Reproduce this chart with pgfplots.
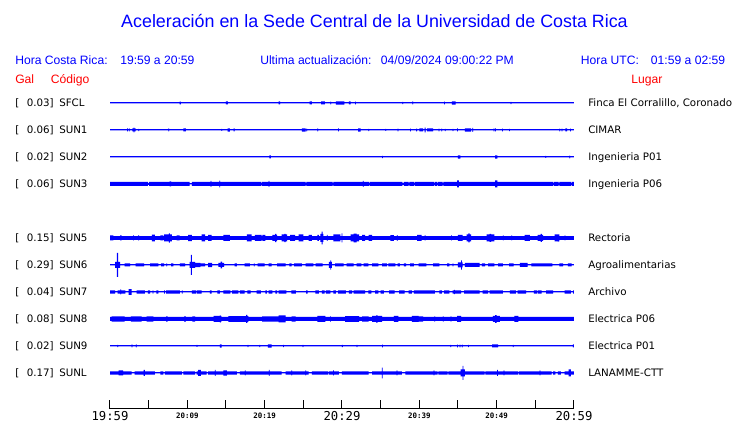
\documentclass[border=0pt]{standalone}
\usepackage{fontspec}
\usepackage{pgfplots}
\usepackage{pgfplotstable}
\pgfplotsset{compat=1.18}
\setmainfont{DejaVu Sans}
\newfontfamily\arialf{Liberation Sans}
\newfontfamily\monof{DejaVu Sans Mono}
\definecolor{sblue}{RGB}{0,0,255}
\definecolor{sred}{RGB}{255,0,0}

% envelope of each trace: from t (minutes after 19:59) on, half amplitude a (px)
\pgfplotstableread[row sep=\\]{t a\\
0 0.5\\ 9.0 1.4\\ 9.15 0.5\\ 15.0 1.5\\ 15.25 0.5\\ 21.8 1.5\\ 22.0 0.5\\ 25.8 1.5\\ 26.1 0.5\\
27.3 1.5\\ 27.8 0.5\\ 28.5 1.4\\ 28.6 0.5\\ 29.2 1.6\\ 30.3 0.5\\ 30.9 1.5\\ 31.1 0.5\\ 31.7 1.4\\ 31.8 0.5\\
37.8 1.2\\ 37.9 0.5\\ 39.1 1.5\\ 39.2 0.5\\ 43.2 1.4\\ 43.3 0.5\\ 44.2 1.6\\ 44.7 0.5\\ 51.8 1.2\\ 51.9 0.5\\ 60 0.5\\
}\sfcl
\pgfplotstableread[row sep=\\]{t a\\
0 0.5\\ 2.2 1.5\\ 2.3 0.5\\ 2.45 1.5\\ 2.55 0.5\\ 2.9 1.5\\ 3.05 2.3\\ 3.15 1.5\\ 3.3 0.5\\ 3.66 1.2\\ 3.76 0.5\\
7.54 1.5\\ 7.64 0.5\\ 9.5 1.5\\ 9.8 0.5\\ 14.4 1.0\\ 14.5 0.5\\ 15.2 1.7\\ 15.5 0.5\\ 16.0 1.5\\ 16.1 0.5\\
24.8 1.7\\ 25.3 0.5\\ 25.4 1.3\\ 25.5 0.5\\ 26.8 1.5\\ 26.9 0.5\\ 29.5 1.5\\ 29.6 0.5\\ 32.1 1.7\\ 32.4 0.5\\
33.4 1.2\\ 33.5 0.5\\ 35.6 1.0\\ 35.7 0.5\\ 37.2 1.4\\ 37.3 0.5\\ 38.8 1.4\\ 38.9 0.5\\ 39.6 1.4\\ 39.7 0.5\\
40.0 1.5\\ 40.5 0.5\\ 40.7 2.3\\ 40.8 0.5\\ 41.0 1.5\\ 41.8 0.5\\ 42.5 1.3\\ 42.6 0.5\\ 42.85 1.3\\ 42.95 0.5\\
43.3 1.2\\ 43.4 0.5\\ 44.3 1.2\\ 44.4 0.5\\ 44.9 1.5\\ 45.0 0.5\\ 45.9 1.7\\ 46.7 0.5\\ 46.85 2.0\\ 46.95 0.5\\
49.6 1.5\\ 49.7 0.5\\ 49.8 1.5\\ 49.9 0.5\\ 50.7 1.4\\ 50.8 0.5\\ 51.6 1.2\\ 51.7 0.5\\ 58.1 1.4\\ 58.2 0.5\\
58.4 1.4\\ 58.5 0.5\\ 58.9 1.5\\ 59.1 0.5\\ 59.5 1.3\\ 59.6 0.5\\ 60 0.5\\
}\sunone
\pgfplotstableread[row sep=\\]{t a\\
0 0.5\\ 20.6 1.5\\ 20.8 0.5\\ 35.2 1.2\\ 35.3 0.5\\ 45.0 1.7\\ 45.3 0.5\\ 49.8 1.7\\ 50.1 0.5\\
56.3 1.0\\ 56.4 0.5\\ 59.4 1.3\\ 59.5 0.5\\ 60 0.5\\
}\suntwo
\pgfplotstableread[row sep=\\]{t a\\
0 2\\ 4.9 1.0\\ 5.05 2\\ 7.7 2.5\\ 7.9 2\\ 10.3 0.5\\ 10.6 2\\ 13.0 3\\ 13.1 2\\ 14.15 3.3\\ 14.25 2\\
19.5 1.2\\ 19.6 2\\ 20.5 3\\ 20.6 2\\ 25.3 1.2\\ 25.4 2\\ 28.8 1.2\\ 28.9 2\\ 32.7 3\\ 32.8 2\\ 33.5 1.2\\ 33.6 2\\
37.8 1.0\\ 38.0 2\\ 38.6 1.0\\ 38.7 2\\ 39.3 1.0\\ 39.4 2\\ 41.9 1.0\\ 42.0 2\\ 42.3 1.0\\ 42.4 2\\ 43.0 1.0\\ 43.1 2\\
44.9 3.5\\ 45.1 2\\ 49.8 3.5\\ 50.1 2\\ 57.3 1.0\\ 57.4 2\\ 58.0 1.0\\ 58.1 2\\ 59.6 1.0\\ 59.7 2\\ 60 2\\
}\sunthree
\pgfplotstableread[row sep=\\]{t a\\
0 2.5\\ 0.45 1.8\\ 1.3 2.5\\ 1.5 1.8\\ 3.0 2.5\\ 3.1 1.8\\ 3.65 2.5\\ 3.75 1.8\\ 5.4 3.3\\ 5.8 1.8\\
6.5 2.5\\ 6.9 1.8\\ 7.0 3.5\\ 7.6 4.6\\ 7.75 3.5\\ 8.0 1.8\\ 8.6 2.5\\ 9.0 1.8\\ 10.1 3.2\\ 10.6 1.8\\
11.85 3.5\\ 12.3 1.8\\ 12.7 3\\ 13.15 1.8\\ 14.65 3\\ 15.5 1.8\\ 17.7 3.5\\ 18.3 1.8\\ 18.75 3\\ 19.6 1.8\\
19.7 3\\ 20.1 1.8\\ 21.0 3\\ 21.35 4.2\\ 21.5 3\\ 21.6 1.8\\ 22.2 3.5\\ 22.55 4.2\\ 22.7 3.5\\ 22.9 1.8\\
23.3 3\\ 23.95 1.8\\ 24.4 3.5\\ 25.0 1.8\\ 25.7 3\\ 26.1 1.8\\ 26.8 3\\ 27.0 1.8\\ 27.2 4\\ 27.35 6.3\\ 27.5 4\\ 27.6 1.8\\
28.05 3\\ 28.15 1.8\\ 28.9 3.5\\ 29.8 1.8\\ 29.95 4.5\\ 30.05 1.8\\ 31.1 3.5\\ 31.5 4.3\\ 31.9 3.5\\ 32.2 1.8\\
32.6 3\\ 33.0 1.8\\ 33.45 3\\ 33.9 1.8\\ 36.25 2.8\\ 36.7 1.8\\ 37.1 2.8\\ 37.2 1.8\\ 39.7 3\\ 40.3 1.8\\
40.7 2.5\\ 40.8 1.8\\ 44.1 2.5\\ 44.2 1.8\\ 45.0 3\\ 45.6 1.8\\ 46.1 3.5\\ 46.35 4.5\\ 46.5 3.5\\ 46.7 1.8\\
48.7 3.5\\ 49.1 4\\ 49.3 3.5\\ 49.7 1.8\\ 50.8 2.5\\ 50.9 1.8\\ 51.9 2.5\\ 52.0 1.8\\ 53.6 3\\ 54.3 1.8\\
55.3 3\\ 55.7 4\\ 55.85 3\\ 56.0 1.8\\ 57.5 3.5\\ 57.9 3.7\\ 58.0 3.5\\ 58.1 1.8\\ 58.8 2.5\\ 58.9 1.8\\ 60 1.8\\
}\sunfive
\pgfplotstableread[row sep=\\]{t a\\
0 0.5\\ 0.65 3\\ 0.9 12\\ 1.05 3\\ 1.3 0.5\\ 1.9 1.5\\ 2.6 0.5\\ 3.3 1.5\\ 4.4 0.5\\ 5.2 1.5\\ 6.25 0.5\\
6.6 1.5\\ 7.0 0.5\\ 7.3 1.5\\ 7.4 0.5\\ 7.9 1.5\\ 8.2 0.5\\ 9.05 1.5\\ 9.7 0.5\\ 10.3 3\\ 10.45 10\\ 10.6 3\\
11.0 2.2\\ 11.7 1.5\\ 12.3 0.5\\ 12.7 2.2\\ 13.2 0.5\\ 14.0 2\\ 14.3 3.3\\ 14.5 2\\ 14.75 0.5\\ 16.1 1.5\\ 16.4 0.5\\
17.4 1.5\\ 18.1 0.5\\ 18.6 1.5\\ 18.7 0.5\\ 19.1 1.5\\ 20.0 0.5\\ 20.5 1.5\\ 20.9 0.5\\ 21.6 1.5\\ 22.7 0.5\\
23.2 1.5\\ 23.5 0.5\\ 23.8 1.5\\ 24.8 0.5\\ 25.3 1.5\\ 26.3 0.5\\ 26.6 1.5\\ 27.5 0.5\\ 28.3 3\\ 28.5 4.7\\ 28.6 3\\ 28.7 0.5\\
29.1 1.5\\ 30.2 0.5\\ 30.6 1.5\\ 31.5 0.5\\ 31.9 1.5\\ 32.5 0.5\\ 32.8 1.5\\ 33.4 0.5\\ 33.9 1.5\\ 34.7 0.5\\
35.2 1.5\\ 35.8 0.5\\ 36.0 1.5\\ 36.9 0.5\\ 37.2 1.5\\ 37.5 0.5\\ 38.0 1.5\\ 38.3 0.5\\ 38.8 1.5\\ 39.3 0.5\\
39.9 1.5\\ 40.9 0.5\\ 41.8 1.5\\ 42.6 0.5\\ 43.6 1.5\\ 43.9 0.5\\ 44.3 1.5\\ 44.4 0.5\\ 45.0 2.5\\ 45.4 4.7\\ 45.5 2.5\\ 45.6 0.5\\
45.9 2\\ 47.8 0.5\\ 48.1 1.5\\ 48.5 0.5\\ 48.9 1.5\\ 49.7 0.5\\ 50.2 1.5\\ 50.8 0.5\\ 51.6 1.5\\ 52.2 0.5\\
53.0 2\\ 54.0 0.5\\ 54.5 1.5\\ 57.2 0.5\\ 58.1 1.5\\ 58.6 0.5\\ 59.2 1.5\\ 59.7 0.5\\ 60 0.5\\
}\sunsix
\pgfplotstableread[row sep=\\]{t a\\
0 1.6\\ 0.65 0.5\\ 1.0 1.6\\ 1.35 2.5\\ 1.45 1.6\\ 2.0 0.5\\ 2.4 2.8\\ 2.8 0.5\\ 3.45 1.6\\ 4.5 0.5\\
4.9 1.6\\ 5.2 0.5\\ 5.5 1.6\\ 5.6 0.5\\ 6.0 1.6\\ 6.25 0.5\\ 7.0 1.6\\ 7.1 0.5\\ 7.25 1.6\\ 9.05 0.5\\
9.3 1.6\\ 9.4 0.5\\ 10.6 1.6\\ 11.1 0.5\\ 11.2 1.6\\ 11.85 0.5\\ 12.9 1.6\\ 13.15 0.5\\ 13.9 1.6\\ 14.2 0.5\\
14.65 1.6\\ 15.55 0.5\\ 15.8 1.6\\ 16.6 0.5\\ 16.8 1.6\\ 17.4 0.5\\ 17.75 1.6\\ 18.2 0.5\\ 18.96 1.6\\ 19.5 0.5\\
20.1 1.6\\ 20.3 0.5\\ 20.5 1.6\\ 21.0 0.5\\ 21.4 1.6\\ 21.6 0.5\\ 21.8 1.6\\ 22.8 0.5\\ 23.45 1.6\\ 24.05 0.5\\
25.35 1.6\\ 25.55 0.5\\ 26.55 1.6\\ 27.0 0.5\\ 27.4 1.6\\ 27.75 0.5\\ 27.9 1.6\\ 28.5 0.5\\ 28.9 1.6\\ 29.2 0.5\\
29.5 1.6\\ 30.5 0.5\\ 30.9 1.6\\ 31.3 0.5\\ 31.5 1.6\\ 33.0 0.5\\ 33.4 1.6\\ 33.8 0.5\\ 34.3 1.6\\ 34.7 0.5\\
35.0 1.6\\ 35.4 0.5\\ 36.1 1.6\\ 36.8 0.5\\ 37.4 1.6\\ 38.1 0.5\\ 38.6 1.6\\ 39.05 0.5\\ 39.3 1.6\\ 42.0 0.5\\
42.6 1.6\\ 42.9 0.5\\ 43.2 1.6\\ 43.9 0.5\\ 44.3 1.6\\ 44.5 2.2\\ 44.6 1.6\\ 45.4 0.5\\ 45.8 1.6\\ 47.8 0.5\\
48.2 1.6\\ 48.9 0.5\\ 49.1 1.6\\ 50.8 0.5\\ 51.7 1.6\\ 52.5 0.5\\ 52.7 1.6\\ 53.8 0.5\\ 54.8 1.6\\ 55.2 0.5\\
55.3 1.6\\ 55.8 0.5\\ 56.4 1.6\\ 57.3 0.5\\ 58.8 1.6\\ 59.6 0.5\\ 59.9 1.6\\ 60 1.6\\
}\sunseven
\pgfplotstableread[row sep=\\]{t a\\
0 2\\ 0.2 2.7\\ 1.9 2\\ 2.7 2.7\\ 4.1 2\\ 4.75 2.7\\ 5.6 2\\ 7.25 2.7\\ 7.45 2\\ 9.6 2.7\\ 9.8 2\\
10.65 2.7\\ 11.0 2\\ 13.4 3\\ 14.2 3.6\\ 14.3 3\\ 14.4 2\\ 15.3 2.8\\ 17.6 4\\ 17.75 2.8\\ 17.9 2\\
19.66 2.6\\ 21.8 3.5\\ 22.7 2\\ 23.5 2.7\\ 24.0 2\\ 26.8 3\\ 27.85 2\\ 28.45 2.7\\ 28.55 2\\ 30.4 2.8\\ 32.2 2\\
32.6 2.7\\ 33.45 2\\ 33.9 3\\ 34.4 3.7\\ 34.6 3\\ 35.2 2\\ 36.7 3\\ 37.3 2\\ 39.05 3\\ 39.9 2.7\\ 40.5 2\\
41.95 2.7\\ 42.05 2\\ 43.05 2.7\\ 43.15 2\\ 44.05 2.7\\ 44.15 2\\ 44.9 3\\ 45.4 2\\ 49.5 3\\ 49.8 3.8\\ 50.0 3\\ 50.4 2\\
52.3 3\\ 52.8 2\\ 60 2\\
}\suneight
\pgfplotstableread[row sep=\\]{t a\\
0 0.5\\ 0.95 1.1\\ 1.05 0.5\\ 2.8 1.5\\ 2.9 0.5\\ 3.35 1.5\\ 3.45 0.5\\ 11.2 1.0\\ 11.3 0.5\\ 14.2 1.6\\ 14.45 0.5\\
17.8 1.2\\ 17.9 0.5\\ 19.3 1.2\\ 19.4 0.5\\ 20.4 1.6\\ 20.9 0.5\\ 22.4 1.1\\ 22.5 0.5\\ 24.9 1.1\\ 25.0 0.5\\
30.0 1.1\\ 30.1 0.5\\ 31.9 1.1\\ 32.0 0.5\\ 35.2 1.4\\ 35.3 0.5\\ 44.0 1.2\\ 44.1 0.5\\ 44.9 1.3\\ 45.0 0.5\\
45.2 1.3\\ 45.3 0.5\\ 45.5 1.3\\ 45.6 0.5\\ 46.3 1.1\\ 46.4 0.5\\ 49.4 1.5\\ 50.2 0.5\\ 52.1 1.1\\ 52.2 0.5\\
59.85 1.5\\ 60 1.5\\
}\sunnine
\pgfplotstableread[row sep=\\]{t a\\
0 1.7\\ 1.1 2.5\\ 1.7 1.7\\ 2.8 0.5\\ 3.2 1.7\\ 4.35 3\\ 4.5 1.7\\ 5.8 0.5\\ 6.5 1.7\\ 6.9 0.5\\ 7.1 1.7\\
9.3 0.5\\ 9.5 1.7\\ 11.0 0.5\\ 11.2 1.7\\ 11.4 3\\ 11.75 1.7\\ 12.5 0.5\\ 12.7 1.7\\ 13.55 3\\ 13.65 1.7\\
14.65 2.7\\ 15.1 1.7\\ 16.4 0.5\\ 16.8 1.7\\ 17.45 2.5\\ 17.55 1.7\\ 20.55 3\\ 20.65 1.7\\ 22.2 0.5\\ 22.7 1.7\\
23.45 2.5\\ 23.55 1.7\\ 25.25 2.5\\ 25.35 1.7\\ 25.7 0.5\\ 26.1 1.7\\ 28.25 0.5\\ 28.35 1.7\\ 28.85 2.5\\ 28.95 1.7\\
29.6 0.5\\ 30.0 1.7\\ 33.45 0.5\\ 33.9 1.7\\ 35.15 5.3\\ 35.25 1.7\\ 37.05 2.5\\ 37.15 1.7\\ 37.75 0.5\\ 38.2 1.7\\
41.85 2.5\\ 41.95 1.7\\ 42.35 0.5\\ 42.45 1.7\\ 43.65 0.5\\ 43.75 1.7\\ 45.35 3.5\\ 45.6 7\\ 45.7 3.5\\ 45.9 1.7\\
48.45 0.5\\ 48.55 1.7\\ 50.05 3\\ 50.15 1.7\\ 50.9 2.5\\ 51.0 1.7\\ 52.75 0.5\\ 52.85 1.7\\ 55.55 2.5\\ 55.65 1.7\\
57.1 0.5\\ 57.3 1.7\\ 57.6 0.5\\ 57.9 1.7\\ 58.3 0.5\\ 58.8 1.7\\ 59.3 3.5\\ 59.6 1.7\\ 60 1.7\\
}\sunl

% one thin axis per trace, 27px high, zero line at the trace's pixel row
\pgfplotsset{trace axis/.style={
    anchor=west, scale only axis,
    width=348pt, height=20.25pt,
    xmin=0, xmax=60, ymin=-13.5, ymax=13.5,
    hide axis, clip=false}}
\newcommand\trace[2]{%
  \begin{axis}[trace axis, at={(82.5pt,-#2*0.75pt)}]
  \addplot[ybar interval, fill=sblue, draw=none] table[x=t, y=a] {#1};
  \addplot[ybar interval, fill=sblue, draw=none] table[x=t, y expr=-\thisrow{a}] {#1};
  \addplot[sblue, line width=0.75pt] coordinates {(0,0) (60,0)};
  \end{axis}%
}

\newcommand\bigt{\monof\fontsize{9.2}{10}\selectfont}
\newcommand\smt{\monof\bfseries\fontsize{5.6}{6}\selectfont}

\tikzset{
  head/.style={anchor=base west, inner sep=0pt, font=\arialf\fontsize{9.1}{11}\selectfont},
  lab/.style={inner sep=0pt, font=\fontsize{7.7}{9}\selectfont},
}
\newcommand\station[4]{%
  \node[lab, anchor=base west] at (15,#1+4) {[};
  \node[lab, anchor=base east] at (54,#1+4) {#2]};
  \node[lab, anchor=base west] at (59,#1+4) {#3};
  \node[lab, anchor=base west] at (588,#1+4) {#4};
}

\begin{document}
\begin{tikzpicture}

\trace{\sfcl}{103}
\trace{\sunone}{130}
\trace{\suntwo}{157}
\trace{\sunthree}{184}
\trace{\sunfive}{238}
\trace{\sunsix}{265}
\trace{\sunseven}{292}
\trace{\suneight}{319}
\trace{\sunnine}{346}
\trace{\sunl}{373}

% time axis
\begin{axis}[
    at={(82.5pt,-306.75pt)}, anchor=south west,
    scale only axis,
    width=348pt, height=15pt,
    xmin=0, xmax=60, ymin=0, ymax=1,
    axis x line=bottom,
    axis y line=none,
    x axis line style={-, black, line width=0.75pt},
    xtick={0,5,...,60},
    xticklabels={{\bigt 19:59},{},{\raisebox{1.5pt}{\smt 20:09}},{},{\raisebox{1.5pt}{\smt 20:19}},{},
                 {\bigt 20:29},{},{\raisebox{1.5pt}{\smt 20:39}},{},{\raisebox{1.5pt}{\smt 20:49}},{},{\bigt 20:59}},
    xticklabel style={anchor=north, inner sep=0pt, text height=6.7pt, yshift=-2pt},
    tick align=inside,
    major tick length=6.75pt,
    tick style={black, line width=0.75pt},
]
\addplot[draw=none] coordinates {(0,0) (60,0)};
\end{axis}

\begin{scope}[x=0.75pt, y=-0.75pt]
\path[use as bounding box] (0,0) rectangle (740,423);

\node[anchor=base, inner sep=0pt, text=sblue, font=\arialf\fontsize{13.4}{16}\selectfont]
  at (374.5,28) {Aceleración en la Sede Central de la Universidad de Costa Rica};

\node[head, text=sblue] at (15,65) {Hora Costa Rica:};
\node[head, text=sblue] at (120,65) {19:59 a 20:59};
\node[head, text=sblue] at (260,65) {Ultima actualización:};
\node[head, text=sblue] at (380.7,65) {04/09/2024 09:00:22 PM};
\node[head, text=sblue] at (580.7,65) {Hora UTC:};
\node[head, text=sblue] at (650.7,65) {01:59 a 02:59};
\node[head, text=sred] at (15,84) {Gal};
\node[head, text=sred] at (50.7,84) {Código};
\node[head, text=sred] at (631,84) {Lugar};

\station{103}{0.03}{SFCL}{Finca El Corralillo, Coronado}
\station{130}{0.06}{SUN1}{CIMAR}
\station{157}{0.02}{SUN2}{Ingenieria P01}
\station{184}{0.06}{SUN3}{Ingenieria P06}
\station{238}{0.15}{SUN5}{Rectoria}
\station{265}{0.29}{SUN6}{Agroalimentarias}
\station{292}{0.04}{SUN7}{Archivo}
\station{319}{0.08}{SUN8}{Electrica P06}
\station{346}{0.02}{SUN9}{Electrica P01}
\station{373}{0.17}{SUNL}{LANAMME-CTT}
\end{scope}
\end{tikzpicture}
\end{document}
